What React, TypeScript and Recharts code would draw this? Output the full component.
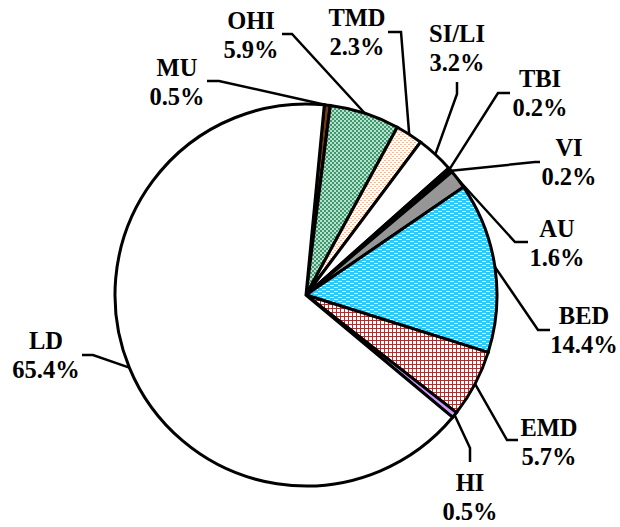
import React from 'react'
import { PieChart, Pie, Cell } from 'recharts'

const categories = ['MU', 'OHI', 'TMD', 'SI/LI', 'TBI', 'VI', 'AU', 'BED', 'EMD', 'HI', 'LD']
const shares = [0.5, 5.9, 2.3, 3.2, 0.2, 0.2, 1.6, 14.4, 5.7, 0.5, 65.4]
const shareLabels = ['0.5%', '5.9%', '2.3%', '3.2%', '0.2%', '0.2%', '1.6%', '14.4%', '5.7%', '0.5%', '65.4%']

const fills = [
	'#7a3a10', 'url(#ohi)', 'url(#tmd)', '#ffffff', '#4b0a4b', '#000000',
	'#969696', 'url(#bed)', 'url(#emd)', '#cc99ff', '#ffffff',
]

// leader bend, leader end, text centre (first line)
const labelLayout = [
	{ bx: 219, by: 81, ex: 207, tx: 177, ty: 67 },
	{ bx: 292, by: 34, ex: 282, tx: 251, ty: 20 },
	{ bx: 401, by: 32, ex: 388, tx: 357, ty: 17 },
	{ bx: 457, by: 94, ex: 457, ey: 82, tx: 457, ty: 33 },
	{ bx: 498, by: 93, ex: 510, tx: 540, ty: 78 },
	{ bx: 535, by: 162, ex: 540, tx: 569, ty: 147 },
	{ bx: 515, by: 242, ex: 528, tx: 557, ty: 228 },
	{ bx: 538, by: 330, ex: 550, tx: 584, ty: 315 },
	{ bx: 507, by: 440, ex: 518, tx: 549, ty: 427 },
	{ bx: 470, by: 448, ex: 470, ey: 462, tx: 470, ty: 482 },
	{ bx: 93, by: 355, ex: 82, tx: 46, ty: 340 },
]

const data = categories.map((name, i) => ({ name, value: shares[i] }))

const RAD = Math.PI / 180
const font = '"Liberation Serif", "Times New Roman", serif'

const renderLabel = (props: any) => {
	const { cx, cy, midAngle, outerRadius, index } = props
	const l = labelLayout[index]
	const sx = cx + outerRadius * Math.cos(-midAngle * RAD)
	const sy = cy + outerRadius * Math.sin(-midAngle * RAD)
	const ey = l.ey !== undefined ? l.ey : l.by
	return (
		<g key={`lbl-${index}`}>
			<polyline
				points={`${sx},${sy} ${l.bx},${l.by} ${l.ex},${ey}`}
				fill='none'
				stroke='#000'
				strokeWidth={2.5}
			/>
			<text x={l.tx} y={l.ty} textAnchor='middle' dominantBaseline='central'
				fontFamily={font} fontWeight='bold' fontSize={24.5} fill='#000'>
				{categories[index]}
			</text>
			<text x={l.tx} y={l.ty + 29} textAnchor='middle' dominantBaseline='central'
				fontFamily={font} fontWeight='bold' fontSize={24.5} fill='#000'>
				{shareLabels[index]}
			</text>
		</g>
	)
}

export default function App() {
	return (
		<div style={{ position: 'absolute', left: 0, top: 0, width: 620, height: 527, background: '#fff' }}>
			<PieChart width={620} height={527} margin={{ top: 0, right: 0, bottom: 0, left: 0 }}>
				<defs>
					<pattern id='ohi' width='4' height='4' patternUnits='userSpaceOnUse'>
						<rect width='4' height='4' fill='#3d9a6e' />
						<rect width='2' height='2' fill='#b9e0cc' />
						<rect x='2' y='2' width='2' height='2' fill='#b9e0cc' />
					</pattern>
					<pattern id='tmd' width='4' height='4' patternUnits='userSpaceOnUse'>
						<rect width='4' height='4' fill='#ffffff' />
						<rect width='2' height='1' fill='#f9b994' />
						<rect x='2' y='2' width='2' height='1' fill='#f9b994' />
					</pattern>
					<pattern id='bed' width='8' height='4' patternUnits='userSpaceOnUse'>
						<rect width='8' height='4' fill='#2ec8f5' />
						<rect x='2' y='1' width='4' height='1' fill='#ffffff' />
						<rect x='6' y='3' width='2' height='1' fill='#ffffff' />
						<rect x='0' y='3' width='2' height='1' fill='#ffffff' />
					</pattern>
					<pattern id='emd' width='4' height='4' patternUnits='userSpaceOnUse'>
						<rect width='4' height='4' fill='#ffffff' />
						<rect width='4' height='1' fill='#a83232' />
						<rect width='1' height='4' fill='#a83232' />
					</pattern>
				</defs>
				<Pie
					data={data}
					dataKey='value'
					nameKey='name'
					cx={306}
					cy={295}
					outerRadius={191}
					startAngle={84.5}
					endAngle={-275.5}
					stroke='#000'
					strokeWidth={3}
					label={renderLabel}
					labelLine={false}
					isAnimationActive={false}
				>
					{data.map((d, i) => (
						<Cell key={d.name} fill={fills[i]} />
					))}
				</Pie>
			</PieChart>
		</div>
	)
}
